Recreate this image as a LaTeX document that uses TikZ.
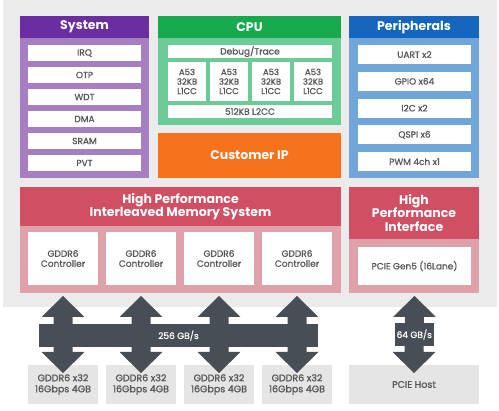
\documentclass[tikz,border=0pt]{standalone}
\usepackage{fontspec}
\setmainfont{Poppins}
\newfontfamily\itemfont[FakeBold=0.8]{Poppins}
\usetikzlibrary{positioning,calc}
\definecolor{bggray}{HTML}{EBEBEB}
\definecolor{sysdark}{HTML}{6A2EA0}
\definecolor{syslight}{HTML}{A57FC2}
\definecolor{cpudark}{HTML}{16A94E}
\definecolor{cpulight}{HTML}{6DCB97}
\definecolor{custorange}{HTML}{F7721D}
\definecolor{perdark}{HTML}{1566BF}
\definecolor{perlight}{HTML}{6FA6D7}
\definecolor{memdark}{HTML}{D14F63}
\definecolor{memlight}{HTML}{DFA1A9}
\definecolor{boxgray}{HTML}{E5E5E5}
\definecolor{arrowgray}{HTML}{474E55}
\definecolor{txtgray}{HTML}{555555}
\tikzstyle{panel}=[
    anchor = north west,
    inner sep = 0pt,
    outer sep = 0pt
]
\tikzstyle{head}=[
    panel,
    text = white,
    align = center,
    font = \bfseries\fontsize{12.5}{13.5}\selectfont
]
\tikzstyle{item}=[
    panel,
    fill = white,
    text = txtgray,
    align = center,
    font = \itemfont\fontsize{9}{10}\selectfont
]
% double headed arrow from top tip #1 to bottom tip #2
\newcommand{\fatarrow}[2]{
    \fill[arrowgray] (#1) -- ++(21.5,21) -- ++(-12,0) -- ($(#2)+(9.5,-21)$) -- ++(12,0)
        -- (#2) -- ++(-21.5,-21) -- ++(12,0) -- ($(#1)+(-9.5,21)$) -- ++(-12,0) -- cycle;
}

\begin{document}
\begin{tikzpicture}[x=1pt, y=-1pt]
        \useasboundingbox (0,0) rectangle (499,411);
        \fill[bggray] (3,0) rectangle (497,307);

        % system
        \node[panel, fill=syslight, minimum width=129, minimum height=162] (sys) at (20,16) {};
        \node[head, fill=sysdark, minimum width=129, minimum height=22] (syshead) at (sys.north west) {System};
        \foreach \t [count=\i] in {IRQ,OTP,WDT,DMA,SRAM,PVT}
            \node[item, minimum width=113, minimum height=16] (sys\i) at (28,{45+(\i-1)*22}) {\t};

        % cpu
        \node[panel, fill=cpulight, minimum width=183, minimum height=109] (cpu) at (158,16) {};
        \node[head, fill=cpudark, minimum width=183, minimum height=22] (cpuhead) at (cpu.north west) {CPU};
        \node[item, minimum width=164, minimum height=13] (debug) at (168,45) {Debug/Trace};
        \foreach \i in {1,...,4}
            \node[item, minimum width=38, minimum height=39, font=\itemfont\fontsize{8.5}{9.5}\selectfont] (core\i) at ({168+(\i-1)*42},62) {A53\\32KB\\L1CC};
        \node[item, minimum width=164, minimum height=13] (l2) at (168,105) {512KB L2CC};

        \node[head, fill=custorange, minimum width=183, minimum height=45] (cust) at (158,133) {Customer IP};

        % peripherals
        \node[panel, fill=perlight, minimum width=130, minimum height=162] (per) at (349,16) {};
        \node[head, fill=perdark, minimum width=130, minimum height=22] (perhead) at (per.north west) {Peripherals};
        \foreach \t [count=\i] in {UART x2,GPIO x64,I2C x2,QSPI x6,PWM 4ch x1}
            \node[item, minimum width=113, minimum height=19] (per\i) at (358,{45+(\i-1)*26.8}) {\t};

        % memory system
        \node[panel, fill=memlight, minimum width=321, minimum height=106] (mem) at (20,187) {};
        \node[head, fill=memdark, minimum width=321, minimum height=39] (memhead) at (mem.north west) {High Performance\\Interleaved Memory System};
        \foreach \i in {1,...,4}
            \node[item, minimum width=70, minimum height=53] (ctl\i) at ({28+(\i-1)*78},232) {GDDR6\\Controller};

        % interface
        \node[panel, fill=memlight, minimum width=130, minimum height=106] (hpi) at (349,187) {};
        \node[head, fill=memdark, minimum width=130, minimum height=52] (hpihead) at (hpi.north west) {High\\Performance\\Interface};
        \node[item, minimum width=113, minimum height=38] (pcie) at (358,247) {PCIE Gen5 (16Lane)};

        % outside
        \foreach \i in {1,...,4}
            \node[item, fill=boxgray, minimum width=70, minimum height=39, font=\itemfont\fontsize{9.5}{11}\selectfont] (dram\i) at ({28+(\i-1)*78},365) {GDDR6 x32\\16Gbps 4GB};
        \node[item, fill=boxgray, minimum width=130, minimum height=39, font=\itemfont\fontsize{9.5}{11}\selectfont] (host) at (349,365) {PCIE Host};

        \foreach \i in {1,...,4}{
            \coordinate (top\i) at ($(ctl\i.south |- mem.south)+(0,3)$);
            \coordinate (bot\i) at ($(dram\i.north)+(0,8)$);
            \fatarrow{top\i}{bot\i}
        }
        \node[panel, anchor=west, fill=arrowgray, text=white, minimum width=279, minimum height=23, font=\itemfont\fontsize{9}{10}\selectfont] (bus) at (39,335.5) {256 GB/s};

        \coordinate (ptop) at ($(pcie.south |- hpi.south)+(0,3)$);
        \coordinate (pbot) at ($(host.north)+(0,8)$);
        \fatarrow{ptop}{pbot}
        \node[panel, anchor=center, fill=arrowgray, text=white, minimum width=39, minimum height=23, font=\itemfont\fontsize{9}{10}\selectfont] (link) at ($(ptop)!0.5!(pbot)$) {64 GB/s};

    \end{tikzpicture}
\end{document}
